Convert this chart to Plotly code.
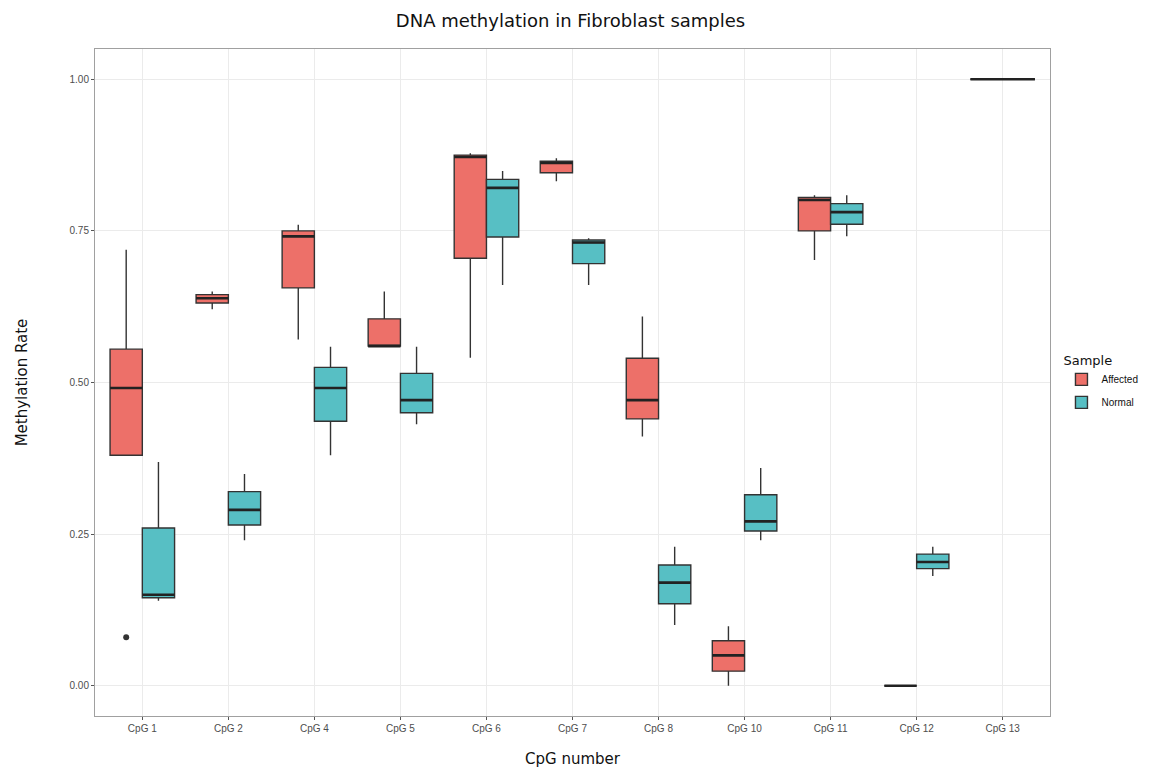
import plotly.graph_objects as go

categories = ["CpG 1", "CpG 2", "CpG 4", "CpG 5", "CpG 6", "CpG 7", "CpG 8", "CpG 10", "CpG 11", "CpG 12", "CpG 13"]

# Affected (CpG 1 .. CpG 12)
aff_cats = categories[:10]
aff_low = [0.38, 0.621, 0.571, 0.560, 0.541, 0.832, 0.411, 0.000, 0.702, 0.0]
aff_q1 = [0.38, 0.631, 0.656, 0.560, 0.705, 0.846, 0.440, 0.024, 0.750, 0.0]
aff_med = [0.491, 0.639, 0.741, 0.560, 0.872, 0.862, 0.471, 0.050, 0.801, 0.0]
aff_q3 = [0.555, 0.645, 0.750, 0.605, 0.875, 0.865, 0.540, 0.074, 0.805, 0.0]
aff_high = [0.719, 0.650, 0.760, 0.650, 0.878, 0.870, 0.609, 0.098, 0.809, 0.0]

# Normal (CpG 1 .. CpG 12)
nor_cats = categories[:10]
nor_low = [0.140, 0.240, 0.380, 0.431, 0.661, 0.661, 0.100, 0.240, 0.741, 0.181]
nor_q1 = [0.145, 0.265, 0.436, 0.450, 0.740, 0.696, 0.135, 0.255, 0.761, 0.193]
nor_med = [0.150, 0.290, 0.491, 0.471, 0.821, 0.731, 0.170, 0.271, 0.781, 0.204]
nor_q3 = [0.260, 0.320, 0.525, 0.515, 0.835, 0.735, 0.199, 0.315, 0.795, 0.217]
nor_high = [0.369, 0.349, 0.559, 0.559, 0.849, 0.738, 0.229, 0.359, 0.809, 0.229]

# CpG 13 (single group, all values 1.0)
single_cats = ["CpG 13"]
single_vals = [1.0]

# Outlier
out_cats = ["CpG 1"]
out_vals = [0.08]

RED = "#ED7069"
TEAL = "#57BFC4"
LINE = "#333333"

fig = go.Figure()


def add_box(name, cats, low, q1, med, q3, high, fill, og, ag, legend=True):
    fig.add_trace(go.Box(
        name=name, x=cats, q1=q1, median=med, q3=q3,
        lowerfence=low, upperfence=high,
        fillcolor=fill, line=dict(color=LINE, width=1.4), whiskerwidth=0,
        offsetgroup=og, alignmentgroup=ag, boxpoints=False,
        showlegend=legend, legendgroup=name, hoverinfo="skip",
    ))
    # thicker median line drawn on top
    fig.add_trace(go.Box(
        name=name, x=cats, q1=med, median=med, q3=med,
        lowerfence=med, upperfence=med,
        fillcolor="rgba(0,0,0,0)", line=dict(color="#222222", width=2.6), whiskerwidth=0,
        offsetgroup=og, alignmentgroup=ag, boxpoints=False,
        showlegend=False, legendgroup=name, hoverinfo="skip",
    ))


add_box("Affected", aff_cats, aff_low, aff_q1, aff_med, aff_q3, aff_high, RED, "A", "main")
add_box("Normal", nor_cats, nor_low, nor_q1, nor_med, nor_q3, nor_high, TEAL, "N", "main")
add_box("Affected", single_cats, single_vals, single_vals, single_vals, single_vals, single_vals,
        RED, "S", "single", legend=False)

fig.add_trace(go.Scatter(
    x=out_cats, y=out_vals, mode="markers", showlegend=False, xaxis="x2",
    marker=dict(color=LINE, size=6),
))

fig.update_layout(
    width=1148, height=763,
    template="plotly_white",
    paper_bgcolor="white", plot_bgcolor="white",
    boxmode="group", boxgap=0.25, boxgroupgap=0,
    title=dict(text="DNA methylation in Fibroblast samples", x=0.490, xanchor="center",
               xref="container", y=0.984, yanchor="middle",
               font=dict(family="DejaVu Sans", size=18, color="#111"), automargin=False),
    margin=dict(l=87, r=106, t=41, b=55, autoexpand=False),
    font=dict(family="Liberation Sans", color="#4D4D4D"),
    xaxis=dict(
        categoryorder="array", categoryarray=categories, range=[-0.55, 10.55],
        showgrid=True, gridcolor="#EBEBEB", gridwidth=1.3,
        showline=True, mirror=True, linecolor="#A0A0A0", linewidth=1,
        ticks="outside", ticklen=3, tickcolor="#555", tickfont=dict(size=10, color="#4D4D4D"),
        title=dict(text="CpG number", font=dict(family="DejaVu Sans", size=15, color="#111"), standoff=20),
        zeroline=False, automargin=False,
    ),
    xaxis2=dict(
        overlaying="x", range=[-0.55 + 0.1875, 10.55 + 0.1875],
        categoryorder="array", categoryarray=categories,
        visible=False, automargin=False,
    ),
    yaxis=dict(
        range=[-0.05, 1.05], tickvals=[0, 0.25, 0.5, 0.75, 1.0], tickformat=".2f",
        showgrid=True, gridcolor="#EBEBEB", gridwidth=1.3,
        showline=True, mirror=True, linecolor="#A0A0A0", linewidth=1,
        ticks="outside", ticklen=3, tickcolor="#555", tickfont=dict(size=10, color="#4D4D4D"),
        title=dict(text="Methylation Rate", font=dict(family="DejaVu Sans", size=15, color="#111"), standoff=38),
        zeroline=False, automargin=False,
    ),
    legend=dict(
        title=dict(text="Sample", font=dict(family="DejaVu Sans", size=13, color="#111")),
        x=1.012, xanchor="left", y=0.50, yanchor="middle",
        font=dict(size=10, color="#111"), bgcolor="rgba(0,0,0,0)",
        tracegroupgap=4, itemwidth=30,
    ),
)

fig.write_html("out.html")
